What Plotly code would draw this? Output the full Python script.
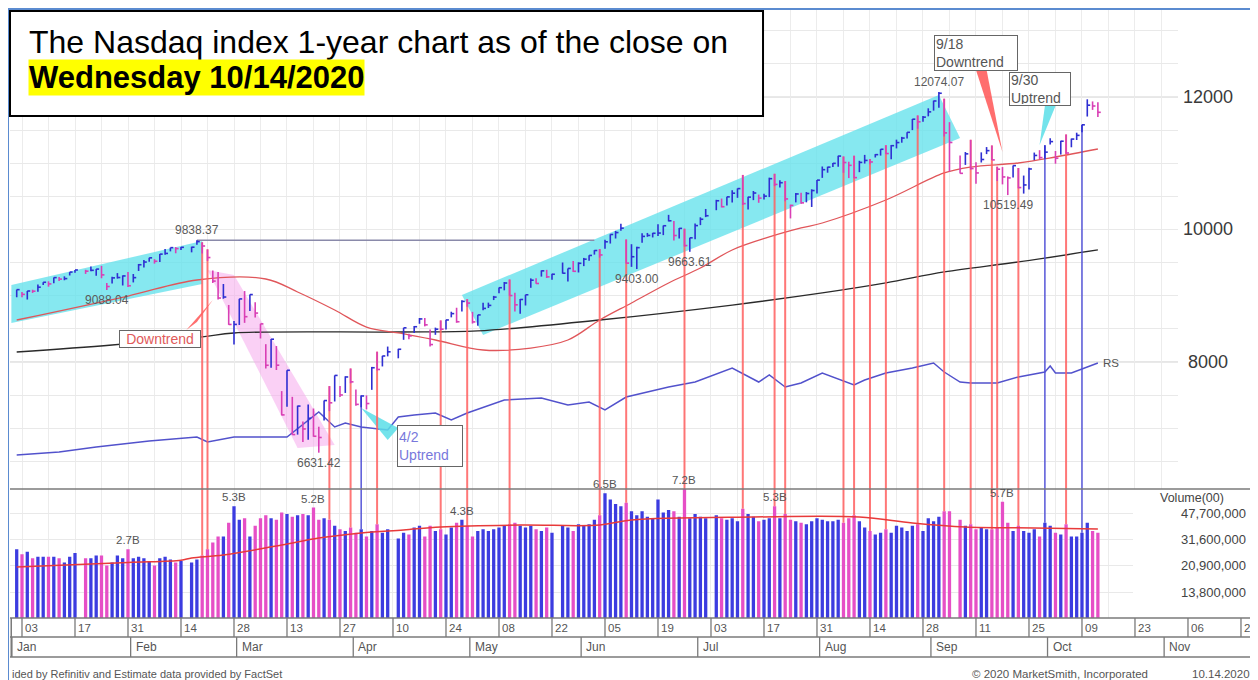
import math
import pandas as pd
import plotly.graph_objects as go

FONT = "Arial, Liberation Sans, sans-serif"

# ---------------- data ----------------
holidays = ["2020-01-20", "2020-02-17", "2020-04-10", "2020-05-25", "2020-07-03", "2020-09-07"]

close_px = [
    # Jan
    9092.19, 9020.77, 9071.47, 9068.58, 9129.24, 9203.43, 9178.86, 9273.93, 9251.33, 9258.70, 9357.13,
    9388.94, 9370.81, 9383.77, 9402.48, 9314.91, 9139.31, 9269.68, 9275.16, 9298.93, 9150.94,
    # Feb
    9273.40, 9467.97, 9508.68, 9572.15, 9520.51, 9628.39, 9638.94, 9725.96, 9711.97, 9731.18,
    9732.74, 9817.18, 9750.96, 9576.59, 9221.28, 8965.61, 8980.78, 8566.48, 8567.37,
    # Mar
    8952.17, 8684.09, 9018.09, 8738.60, 8575.62, 7950.68, 8344.25, 7952.05, 7201.80, 7874.88, 6904.59,
    7334.78, 6989.84, 7150.58, 6879.52, 6860.67, 7417.86, 7384.30, 7797.54, 7502.38, 7774.15, 7700.10,
    # Apr
    7360.58, 7487.31, 7373.08, 7913.24, 7887.26, 8090.90, 8153.58, 8192.42, 8515.74, 8393.18, 8532.36,
    8650.14, 8560.73, 8263.23, 8495.38, 8494.75, 8634.52, 8730.16, 8607.73, 8914.71, 8889.55,
    # May
    8604.95, 8710.71, 8809.12, 8854.39, 8979.66, 9121.32, 9192.34, 9002.55, 8863.17, 8943.72,
    9014.56, 9234.83, 9185.10, 9375.78, 9284.88, 9324.59, 9340.22, 9412.36, 9368.99, 9489.87,
    # Jun
    9552.05, 9608.38, 9682.91, 9615.81, 9814.08, 9924.75, 9953.75, 10020.35, 9492.73, 9588.81, 9726.02,
    9895.87, 9910.53, 9943.05, 9946.12, 10056.48, 10131.37, 9909.17, 10017.00, 9757.22, 9874.15, 10058.77,
    # Jul
    10154.63, 10207.63, 10433.65, 10343.89, 10492.50, 10547.75, 10617.44, 10390.84, 10488.58, 10550.49,
    10473.83, 10503.19, 10767.09, 10680.36, 10706.13, 10461.42, 10363.18, 10536.27, 10402.09, 10542.94,
    10587.81, 10745.27,
    # Aug
    10902.80, 10941.17, 10998.40, 11108.07, 11010.98, 10968.36, 10782.82, 11012.24, 11042.50, 11019.30,
    11129.72, 11210.84, 11146.46, 11264.95, 11311.80, 11379.72, 11466.47, 11665.06, 11625.34, 11695.63,
    11775.46,
    # Sep
    11939.67, 12056.44, 11458.10, 11313.13, 10847.69, 11141.56, 10919.59, 10853.55, 11056.65, 11190.32,
    11050.47, 10910.28, 10793.28, 10778.80, 10963.64, 10632.99, 10672.27, 10913.56, 11117.53, 11085.25,
    11167.51,
    # Oct
    11326.51, 11075.02, 11332.49, 11154.60, 11364.60, 11420.98, 11579.94, 11876.26, 11863.90, 11768.73,
]

high_px = [
    9093, 9056, 9072, 9091, 9168, 9204, 9218, 9274, 9283, 9293, 9357, 9389, 9392, 9440, 9403, 9451, 9191,
    9286, 9342, 9307, 9358,
    9328, 9480, 9540, 9573, 9552, 9629, 9705, 9726, 9735, 9734, 9740, 9838.37, 9806, 9700, 9380, 9358,
    9177, 8861, 8617,
    8953, 9071, 9019, 8901, 8576, 8269, 8349, 8241, 7561, 7875, 7474, 7341, 7103, 7358, 7298, 7023, 7418,
    7636, 7798, 7637, 7784, 7902,
    7585, 7496, 7496, 7926, 8156, 8093, 8233, 8199, 8516, 8428, 8545, 8664, 8664, 8489, 8519, 8627, 8637,
    8759, 8819, 8932, 8949,
    8757, 8711, 8895, 8896, 8998, 9125, 9208, 9245, 9045, 8952, 9015, 9262, 9265, 9383, 9391, 9332, 9502,
    9413, 9523, 9505,
    9571, 9612, 9688, 9704, 9846, 9927, 9979, 10086, 9849, 9778, 9740, 9943, 9948, 9949, 10079, 10060,
    10221, 10129, 10023, 10012, 9875, 10092,
    10184, 10310, 10448, 10467, 10494, 10594, 10620, 10824, 10495, 10581, 10527, 10540, 10782, 10840,
    10745, 10733, 10376, 10550, 10554, 10565, 10607, 10746,
    10951, 10947, 11002, 11112, 11102, 11023, 11112, 11037, 11126, 11064, 11138, 11213, 11272, 11275,
    11356, 11398, 11467, 11668, 11721, 11714, 11829,
    11945, 12074.07, 11975, 11620, 11116, 11169, 11353, 11014, 11164, 11244, 11268, 10947, 10942, 10801,
    10966, 10928, 10814, 10932, 11161, 11197, 11271,
    11378, 11185, 11339, 11435, 11372, 11461, 11580, 11965, 11933, 11919,
]

low_px = [
    8977, 8979, 8943, 9042, 9060, 9164, 9137, 9190, 9221, 9234, 9306, 9348, 9330, 9371, 9301, 9264,
    9088.04, 9183, 9259, 9155, 9131,
    9201, 9374, 9428, 9512, 9485, 9508, 9620, 9670, 9641, 9689, 9655, 9770, 9637, 9526, 9192, 8943, 8955,
    8561, 8264,
    8559, 8591, 8769, 8672, 8355, 7902, 7913, 7879, 7194, 7323, 6903, 6904, 6794, 6825, 6872, 6631.42,
    7116, 7258, 7404, 7471, 7533, 7678,
    7341, 7316, 7285, 7580, 7871, 7933, 8085, 8056, 8335, 8343, 8439, 8577, 8538, 8233, 8410, 8481, 8492,
    8674, 8592, 8762, 8833,
    8580, 8548, 8781, 8815, 8935, 9039, 9082, 9001, 8762, 8729, 8853, 9120, 9180, 9289, 9268, 9242, 9334,
    9215, 9358, 9351,
    9447, 9527, 9621, 9575, 9711, 9788, 9864, 9980, 9487, 9436, 9403.00, 9800, 9890, 9880, 9900, 9915,
    10122, 9834, 9864, 9742, 9663.61, 9853,
    10066, 10187, 10291, 10333, 10363, 10406, 10478, 10370, 10303, 10443, 10403, 10451, 10489, 10654,
    10632, 10426, 10167, 10409, 10389, 10410, 10340, 10542,
    10779, 10857, 10945, 10946, 10856, 10776, 10772, 10865, 10995, 10986, 11087, 11115, 11139, 11061,
    11224, 11310, 11373, 11500, 11521, 11625, 11708,
    11794, 11837, 11405, 10875, 10845, 10975, 10905, 10690, 11011, 11138, 11048, 10731, 10681, 10519.49,
    10785, 10621, 10542, 10603, 11047, 11063, 11069,
    11284, 10993, 11131, 11142, 11241, 11351, 11469, 11705, 11805, 11697,
]

volume_b = [  # billions of shares
    2.7, 2.5, 2.6, 2.35, 2.4, 2.4, 2.4, 2.4, 2.35, 2.2, 2.4, 2.55, 2.35, 2.35, 2.45, 2.45, 2.1, 2.2, 2.45,
    2.35, 2.7,
    2.35, 2.4, 2.35, 2.25, 2.1, 2.35, 2.4, 2.3, 2.2, 2.25, 2.2, 2.3, 2.45, 2.7, 3.0, 3.3, 3.3, 4.1, 5.3,
    4.3, 4.4, 3.3, 3.9, 4.4, 4.6, 4.4, 4.3, 4.8, 4.7, 4.5, 4.6, 4.7, 4.6, 5.2, 4.3, 4.4, 4.3, 3.9, 3.7,
    3.6, 3.8,
    3.5, 3.7, 3.3, 3.6, 4.0, 3.5, 3.7, 3.2, 3.5, 3.4, 3.8, 3.9, 3.3, 3.9, 3.6, 3.7, 3.4, 3.8, 4.1, 4.3, 3.9,
    3.3, 3.6, 3.7, 3.6, 3.7, 3.8, 3.9, 4.0, 4.1, 3.9, 3.8, 3.9, 3.7, 3.6, 3.8, 3.5, 3.9, 3.8, 3.6, 4.0,
    3.9, 4.0, 4.3, 4.6, 6.5, 5.9, 5.5, 5.3, 5.6, 4.9, 4.6, 4.9, 4.5, 4.4, 5.9, 4.8, 5.0, 4.9, 4.5, 7.2,
    4.4, 4.7,
    4.5, 4.4, 4.6, 4.4, 4.3, 4.4, 4.2, 5.1, 4.7, 4.5, 4.2, 4.3, 4.4, 5.3, 4.4, 4.7, 4.3, 4.2, 4.1, 4.0,
    4.2, 4.4,
    4.3, 4.2, 4.2, 4.3, 4.1, 4.4, 4.6, 4.2, 3.8, 3.6, 3.4, 3.5, 3.7, 3.5, 3.9, 3.8, 3.6, 3.9, 4.0, 3.6, 4.4,
    4.2, 4.5, 4.9, 4.9, 4.3, 3.9, 4.0, 3.7, 3.8, 3.7, 3.7, 3.8, 5.7, 4.1, 3.6, 3.9, 3.6, 3.5, 3.7, 3.3, 4.1,
    3.9, 3.5, 3.4, 4.0, 3.3, 3.3, 3.5, 4.1, 3.6, 3.5,
]

ma50_dates = ["2020-01-02", "2020-01-31", "2020-02-19", "2020-03-09", "2020-03-17", "2020-03-26",
              "2020-04-03", "2020-04-13", "2020-04-22", "2020-05-05", "2020-05-18", "2020-05-27",
              "2020-06-04", "2020-06-12", "2020-06-23", "2020-07-01", "2020-07-09", "2020-07-20",
              "2020-07-28", "2020-08-03", "2020-08-19", "2020-09-03", "2020-09-10", "2020-09-23",
              "2020-10-02", "2020-10-14"]
ma50_vals = [8634, 8996, 9238, 9253, 9057, 8785, 8528, 8438, 8332, 8181, 8211, 8332, 8634, 8891, 9193,
             9419, 9691, 9887, 10023, 10098, 10445, 10853, 10943, 11004, 11094, 11215]

ma200_dates = ["2020-01-02", "2020-01-28", "2020-02-20", "2020-02-28", "2020-04-13", "2020-05-04",
               "2020-06-04", "2020-07-09", "2020-08-03", "2020-08-19", "2020-09-03", "2020-09-23",
               "2020-10-14"]
ma200_vals = [8151, 8257, 8378, 8438, 8453, 8470, 8634, 8860, 9042, 9193, 9359, 9510, 9691]

rs_dates = ["2020-01-02", "2020-01-14", "2020-01-23", "2020-02-06", "2020-02-19", "2020-02-21",
            "2020-02-28", "2020-03-13", "2020-03-23", "2020-03-26", "2020-03-30", "2020-04-02",
            "2020-04-09", "2020-04-13", "2020-04-16", "2020-04-22", "2020-04-27", "2020-04-30",
            "2020-05-11", "2020-05-20", "2020-05-27", "2020-06-02", "2020-06-05", "2020-06-11",
            "2020-06-23", "2020-06-30", "2020-07-09", "2020-07-16", "2020-07-20", "2020-07-23",
            "2020-07-28", "2020-08-03", "2020-08-11", "2020-08-13", "2020-08-19", "2020-08-26",
            "2020-09-01", "2020-09-03", "2020-09-08", "2020-09-10", "2020-09-17", "2020-09-23",
            "2020-09-30", "2020-10-01", "2020-10-02", "2020-10-07", "2020-10-14"]
rs_vals = [6597, 6642, 6717, 6808, 6868, 6793, 6868, 6868, 7245, 7019, 7079, 7019, 6974, 7170, 7200,
           7230, 7125, 7230, 7427, 7457, 7351, 7396, 7276, 7472, 7623, 7698, 7910, 7698, 7804, 7623,
           7683, 7834, 7653, 7728, 7834, 7910, 7985, 7849, 7698, 7683, 7683, 7774, 7849, 7940, 7834,
           7834, 7985]

vol_avg_dates = ["2020-01-02", "2020-01-31", "2020-02-14", "2020-02-18", "2020-02-26", "2020-03-12",
                 "2020-03-23", "2020-04-02", "2020-04-14", "2020-04-23", "2020-05-14", "2020-06-04",
                 "2020-06-12", "2020-07-15", "2020-08-12", "2020-08-26", "2020-09-09", "2020-09-28",
                 "2020-10-14"]
vol_avg_vals = [2.05, 2.2, 2.28, 2.36, 2.47, 2.89, 3.22, 3.49, 3.66, 3.83, 3.95, 3.95, 4.28, 4.48, 4.48,
                4.08, 3.83, 3.77, 3.71]

dist_days = ["2020-02-20", "2020-02-21", "2020-03-25", "2020-03-31", "2020-04-07", "2020-04-23",
             "2020-04-30", "2020-05-12", "2020-06-04", "2020-06-11", "2020-06-26", "2020-07-13",
             "2020-07-21", "2020-07-23", "2020-08-07", "2020-08-11", "2020-08-14", "2020-08-19",
             "2020-08-27", "2020-09-03", "2020-09-10", "2020-09-16", "2020-09-17", "2020-09-23",
             "2020-10-06"]
ftd_days = ["2020-04-02", "2020-09-30", "2020-10-09"]

vol_label_days = ["2020-01-31", "2020-02-28", "2020-03-20", "2020-04-29", "2020-06-05", "2020-06-26",
                  "2020-07-21", "2020-09-18"]
price_label_days = [("2020-02-19", "high"), ("2020-01-27", "low"), ("2020-03-23", "low"),
                    ("2020-06-15", "low"), ("2020-06-29", "low"), ("2020-09-02", "high"),
                    ("2020-09-21", "low")]

price_ticks = [8000, 10000, 12000]
vol_ticks = [4.77, 3.16, 2.09, 1.38]
month_names = ["Jan", "Feb", "Mar", "Apr", "May", "Jun", "Jul", "Aug", "Sep", "Oct", "Nov"]

# hand-drawn annotations on the chart (date, price)
channel_a = [("2020-01-01", 9162), ("2020-02-20", 9826), ("2020-02-20", 9177), ("2020-01-01", 8589)]
channel_b = [("2020-04-29", 9011), ("2020-09-02", 12030), ("2020-09-08", 11380), ("2020-05-05", 8408)]
channel_down = [("2020-02-21", 9389), ("2020-02-28", 9313), ("2020-03-26", 6747), ("2020-03-17", 6702)]
wedge_feb = [("2020-02-17", 8483), ("2020-02-19", 8604), ("2020-02-24", 8936)]
wedge_apr = [("2020-04-02", 7306), ("2020-04-13", 7004), ("2020-04-09", 6823)]
wedge_sep18 = [("2020-09-11", 12408), ("2020-09-15", 12408), ("2020-09-18", 11170)]
wedge_sep30 = [("2020-09-30", 11864), ("2020-10-02", 11864), ("2020-09-29", 11275)]
callouts = [
    ("Downtrend", "2020-02-10", 8347, 78, 14, "#e05a5a", "center"),
    ("4/2<br>Uptrend", "2020-04-21", 6732, 62, 38, "#7878dc", "left"),
    ("9/18<br>Downtrend", "2020-09-11", 12664, 80, 32, "#555555", "left"),
    ("9/30<br>Uptrend", "2020-09-29", 12121, 58, 30, "#555555", "left"),
]

# ---------------- axis slots (weekday positions) ----------------
slots = pd.bdate_range("2020-01-01", "2020-12-31")
slot_of = {d.strftime("%Y-%m-%d"): i for i, d in enumerate(slots)}
trade_dates = [d.strftime("%Y-%m-%d") for d in pd.bdate_range("2020-01-02", "2020-10-14")
               if d.strftime("%Y-%m-%d") not in holidays]
n = min(len(trade_dates), len(close_px), len(high_px), len(low_px), len(volume_b))
trade_dates = trade_dates[:n]
x = [slot_of[d] for d in trade_dates]
idx_of = {d: i for i, d in enumerate(trade_dates)}

up = [True] + [close_px[i] >= close_px[i - 1] for i in range(1, n)]

PRICE_RANGE = [6083, 13328]
VOL_RANGE = [-0.0358, 0.8418]
VOL_TOP = 10 ** VOL_RANGE[1]
SPLIT = 0.2118

UP_C = "#2f2fd2"
DN_C = "#d93fb5"
VUP_C = "#3c3ce0"
VDN_C = "#e64fc6"

fig = go.Figure()


def poly(pts, color):
    xs = [slot_of[d] for d, _ in pts] + [slot_of[pts[0][0]]]
    ys = [p for _, p in pts] + [pts[0][1]]
    fig.add_trace(go.Scatter(x=xs, y=ys, mode="lines", fill="toself", fillcolor=color,
                             line=dict(width=0), hoverinfo="skip"))


poly(channel_a, "rgba(100,226,236,0.78)")
poly(channel_b, "rgba(100,226,236,0.78)")
poly(channel_down, "rgba(246,170,236,0.55)")

# moving averages and RS line
fig.add_trace(go.Scatter(x=[slot_of[d] for d in ma200_dates], y=ma200_vals, mode="lines",
                         line=dict(color="#2a2a2a", width=1.3, shape="spline")))
fig.add_trace(go.Scatter(x=[slot_of[d] for d in ma50_dates], y=ma50_vals, mode="lines",
                         line=dict(color="#e0565a", width=1.3, shape="spline")))
fig.add_trace(go.Scatter(x=[slot_of[d] for d in rs_dates], y=rs_vals, mode="lines",
                         line=dict(color="#5252cc", width=1.5)))

# pivot line from the February high
piv_i = idx_of["2020-02-19"]
fig.add_trace(go.Scatter(x=[x[piv_i], slot_of["2020-06-03"]], y=[high_px[piv_i], high_px[piv_i]],
                         mode="lines", line=dict(color="#8a8aaa", width=1.5)))

# callout wedges
poly(wedge_feb, "rgba(255,85,85,0.85)")
poly(wedge_apr, "rgba(90,222,232,0.85)")
poly(wedge_sep18, "rgba(255,85,85,0.85)")
poly(wedge_sep30, "rgba(90,222,232,0.85)")


# event lines (distribution red, follow-through blue), from price bar to volume bar
def event_lines(days, color, width):
    px_, py_, vx_, vy_ = [], [], [], []
    for d in days:
        i = idx_of[d]
        px_ += [x[i], x[i], None]
        py_ += [high_px[i], PRICE_RANGE[0], None]
        vx_ += [x[i], x[i], None]
        vy_ += [volume_b[i], VOL_TOP, None]
    fig.add_trace(go.Scatter(x=px_, y=py_, mode="lines", line=dict(color=color, width=width)))
    fig.add_trace(go.Scatter(x=vx_, y=vy_, mode="lines", line=dict(color=color, width=width),
                             yaxis="y2"))


event_lines(dist_days, "rgba(255,95,95,0.85)", 2)
event_lines(ftd_days, "rgba(80,80,215,0.9)", 1.6)


# price bars
def bars(sel, color):
    xs, ys = [], []
    for i in sel:
        xs += [x[i], x[i], None, x[i], x[i] + 0.55, None]
        ys += [low_px[i], high_px[i], None, close_px[i], close_px[i], None]
    fig.add_trace(go.Scatter(x=xs, y=ys, mode="lines", line=dict(color=color, width=1.6)))


bars([i for i in range(n) if up[i]], UP_C)
bars([i for i in range(n) if not up[i]], DN_C)

# volume bars and average
fig.add_trace(go.Bar(x=x, y=volume_b[:n], width=0.62, yaxis="y2",
                     marker=dict(color=[VUP_C if u else VDN_C for u in up], line=dict(width=0))))
fig.add_trace(go.Scatter(x=[slot_of[d] for d in vol_avg_dates], y=vol_avg_vals, yaxis="y2",
                         mode="lines", line=dict(color="#e83a3a", width=1.5, shape="spline")))

# ---------------- layout ----------------
week_grid = [slot_of[d.strftime("%Y-%m-%d")] for d in pd.date_range("2020-01-03", "2020-11-27", freq="7D")]

# the page body adds an 8px offset, so the figure is sized to fit the 1258x680 window
fig.update_layout(
    width=1250, height=672, margin=dict(l=2, r=6, t=1, b=62),
    paper_bgcolor="white", plot_bgcolor="white", showlegend=False,
    font=dict(family=FONT, color="#444"),
    xaxis=dict(range=[-0.264, 234.08], tickvals=week_grid, showticklabels=False, ticks="",
               showgrid=True, gridcolor="#ececec", zeroline=False, showline=False),
    yaxis=dict(domain=[SPLIT, 1], range=PRICE_RANGE, tickvals=list(range(6500, 13001, 500)),
               showticklabels=False, ticks="", gridcolor="#e9e9e9", zeroline=False),
    yaxis2=dict(domain=[0, SPLIT], type="log", range=VOL_RANGE, tickvals=vol_ticks, anchor="x",
                showticklabels=False, ticks="", gridcolor="#e9e9e9", zeroline=False),
)

shapes = []
for v in price_ticks:
    shapes.append(dict(type="line", xref="paper", yref="y", x0=0, x1=1, y0=v, y1=v,
                       line=dict(color="#cdcdcd", width=1), layer="below"))
# white right-hand label areas
shapes.append(dict(type="rect", xref="paper", yref="paper", x0=0.9404, x1=1.0, y0=SPLIT, y1=1.0,
                   fillcolor="white", line=dict(width=0), layer="above"))
shapes.append(dict(type="rect", xref="paper", yref="paper", x0=0.9042, x1=1.0, y0=0, y1=SPLIT,
                   fillcolor="white", line=dict(width=0), layer="above"))
# pane separators and date rows
for yy in [SPLIT, 0, -0.0312, -0.064]:
    shapes.append(dict(type="line", xref="paper", yref="paper", x0=0, x1=1, y0=yy, y1=yy,
                       line=dict(color="#7a7a7a", width=1.5), layer="above"))
shapes.append(dict(type="line", xref="paper", yref="paper", x0=0.001, x1=0.001, y0=-0.064, y1=0,
                   line=dict(color="#7a7a7a", width=1.5), layer="above"))

tick_days = pd.date_range("2020-01-03", "2020-11-20", freq="14D")
annotations = []
for d in tick_days:
    s = slot_of[d.strftime("%Y-%m-%d")]
    shapes.append(dict(type="line", xref="x", yref="paper", x0=s, x1=s, y0=-0.0312, y1=0,
                       line=dict(color="#7a7a7a", width=1.3), layer="above"))
    annotations.append(dict(x=s, y=-0.0164, xref="x", yref="paper", text=d.strftime("%d"),
                            showarrow=False, xanchor="left", yanchor="middle", xshift=1,
                            font=dict(size=11.5, color="#555", family=FONT)))
for m, name in enumerate(month_names, start=1):
    first = pd.bdate_range(f"2020-{m:02d}-01", periods=1)[0].strftime("%Y-%m-%d")
    s = max(slot_of[first] - 0.5, 0.1)
    shapes.append(dict(type="line", xref="x", yref="paper", x0=s, x1=s, y0=-0.064, y1=-0.0312,
                       line=dict(color="#7a7a7a", width=1.3), layer="above"))
    annotations.append(dict(x=s, y=-0.0484, xref="x", yref="paper", text=name, showarrow=False,
                            xanchor="left", yanchor="middle", xshift=3,
                            font=dict(size=12, color="#555", family=FONT)))

# outer frame
shapes.append(dict(type="line", xref="paper", yref="paper", x0=-0.0016, x1=-0.0016, y0=-0.1018, y1=1.0,
                   line=dict(color="#5b8bd0", width=2), layer="above"))
shapes.append(dict(type="line", xref="paper", yref="paper", x0=-0.0016, x1=1.0, y0=1.0, y1=1.0,
                   line=dict(color="#5b8bd0", width=2), layer="above"))
shapes.append(dict(type="line", xref="paper", yref="paper", x0=1.0, x1=1.0, y0=-0.07, y1=1.0,
                   line=dict(color="#666", width=1.5), layer="above"))
# title box
shapes.append(dict(type="rect", xref="paper", yref="paper", x0=0.0, x1=0.6063, y0=0.8243, y1=0.9967,
                   fillcolor="white", line=dict(color="black", width=2), layer="above"))

# price level labels
for d, kind in price_label_days:
    i = idx_of[d]
    val = high_px[i] if kind == "high" else low_px[i]
    annotations.append(dict(x=x[i], y=val, xref="x", yref="y", text=f"{val:.2f}", showarrow=False,
                            yanchor="bottom" if kind == "high" else "top",
                            yshift=1 if kind == "high" else -1,
                            font=dict(size=12, color="#5a5a5a", family=FONT)))
# volume peak labels
for d in vol_label_days:
    i = idx_of[d]
    v = volume_b[i]
    annotations.append(dict(x=x[i], y=math.log10(min(v, VOL_TOP)), xref="x", yref="y2",
                            text=f"{v:.1f}B", showarrow=False, yanchor="bottom", yshift=1,
                            font=dict(size=11.5, color="#555", family=FONT)))
# callout boxes
for text, d, p, w, h, col, al in callouts:
    annotations.append(dict(x=slot_of[d], y=p, xref="x", yref="y", text=text, showarrow=False,
                            width=w, height=h, align=al, bgcolor="white", bordercolor="#666",
                            borderwidth=1, borderpad=1, font=dict(size=14, color=col, family=FONT)))
# RS tag
annotations.append(dict(x=slot_of[rs_dates[-1]], y=rs_vals[-1], xref="x", yref="y", text="RS",
                        showarrow=False, xanchor="left", xshift=3,
                        font=dict(size=11.5, color="#555", family=FONT)))
# price scale labels
for v in price_ticks:
    annotations.append(dict(x=0.9646, y=v, xref="paper", yref="y", text=str(v), showarrow=False,
                            xanchor="center", yanchor="middle",
                            font=dict(size=18, color="#3a3a3a", family=FONT)))
# volume scale labels
annotations.append(dict(x=0.979, y=0.197, xref="paper", yref="paper", text="Volume(00)",
                        showarrow=False, xanchor="right", yanchor="middle",
                        font=dict(size=12.5, color="#444", family=FONT)))
for v in vol_ticks:
    annotations.append(dict(x=0.9968, y=math.log10(v), xref="paper", yref="y2",
                            text=f"{v * 1e7:,.0f}", showarrow=False, xanchor="right", yanchor="middle",
                            font=dict(size=13, color="#444", family=FONT)))
# footer
annotations.append(dict(x=0.0, y=-0.092, xref="paper", yref="paper",
                        text="ided by Refinitiv and Estimate data provided by FactSet", showarrow=False,
                        xanchor="left", yanchor="middle", font=dict(size=11, color="#555", family=FONT)))
annotations.append(dict(x=0.918, y=-0.092, xref="paper", yref="paper",
                        text="\u00a9 2020 MarketSmith, Incorporated", showarrow=False,
                        xanchor="right", yanchor="middle", font=dict(size=11.5, color="#555", family=FONT)))
annotations.append(dict(x=1.0, y=-0.092, xref="paper", yref="paper", text="10.14.2020",
                        showarrow=False, xanchor="right", yanchor="middle",
                        font=dict(size=11.5, color="#555", family=FONT)))
# title
annotations.append(dict(x=0.0137, y=0.9458, xref="paper", yref="paper",
                        text="The Nasdaq index 1-year chart as of the close on", showarrow=False,
                        xanchor="left", yanchor="middle", font=dict(size=32, color="black", family=FONT)))
annotations.append(dict(x=0.0145, y=0.8867, xref="paper", yref="paper",
                        text="<b>Wednesday 10/14/2020</b>", showarrow=False, bgcolor="#ffff00",
                        borderpad=0, xanchor="left", yanchor="middle",
                        font=dict(size=31, color="black", family=FONT)))

fig.update_layout(shapes=shapes, annotations=annotations)
fig.write_html("out.html")
